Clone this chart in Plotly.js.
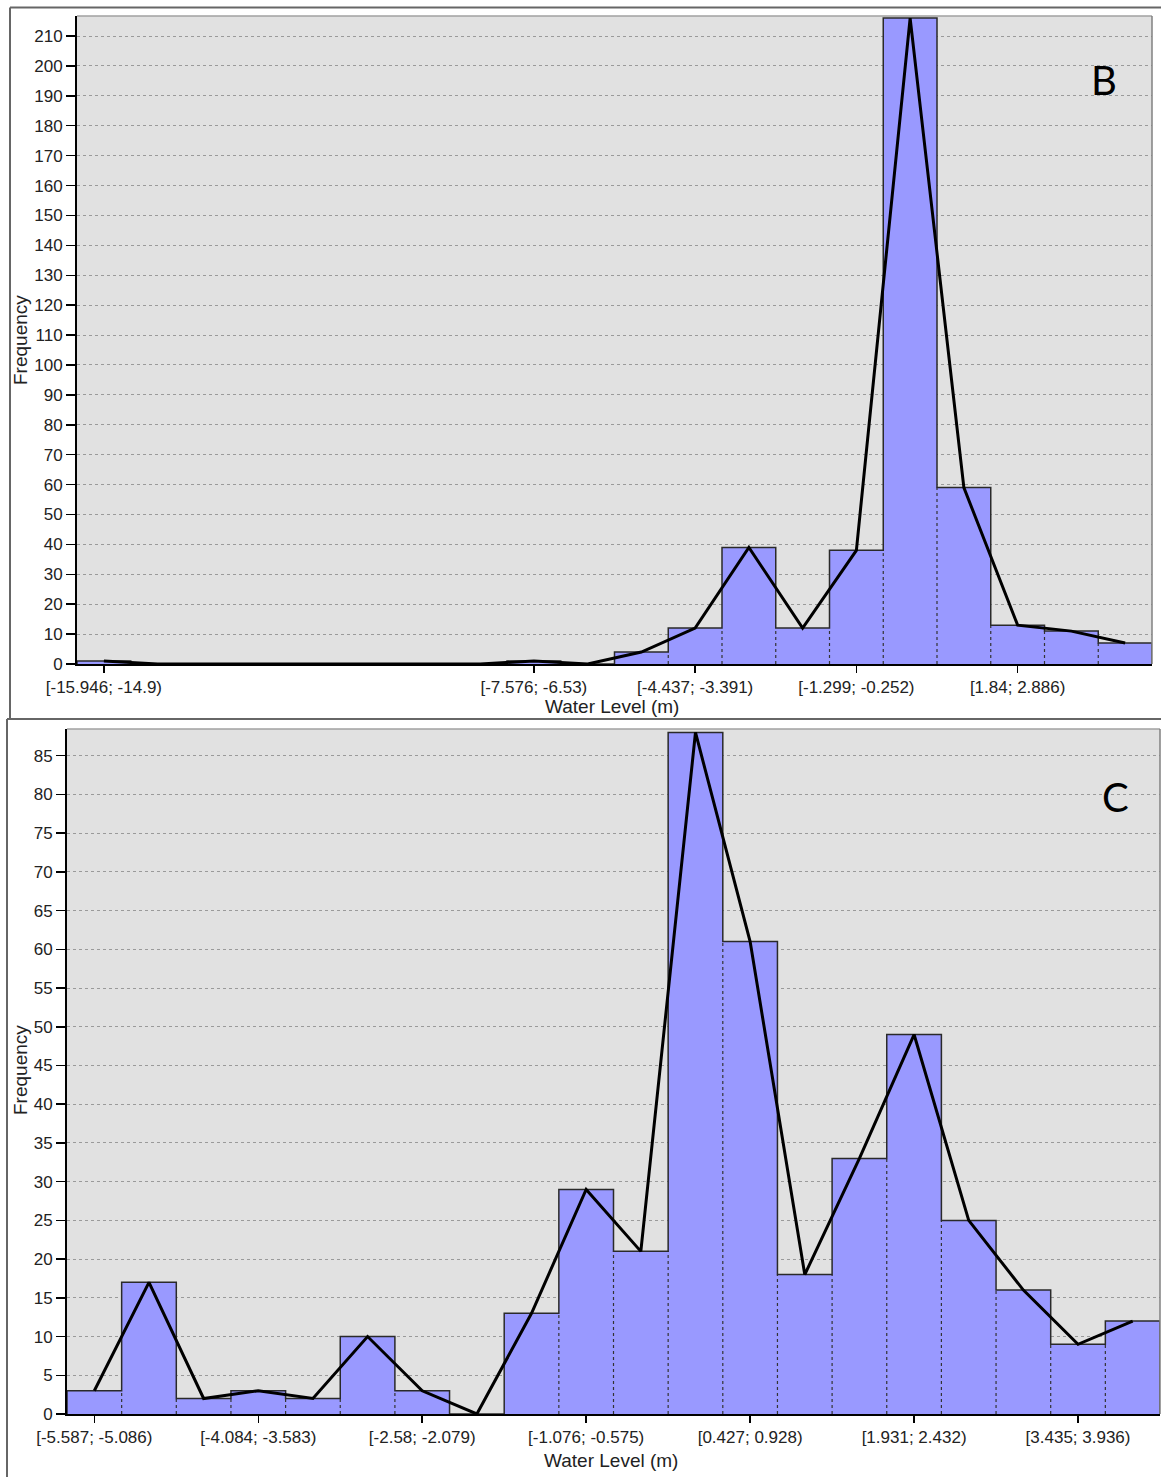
<!DOCTYPE html>
<html>
<head>
<meta charset="utf-8">
<script src="https://cdn.plot.ly/plotly-3.0.1.min.js"></script>
<style>html,body{margin:0;padding:0;background:#fff;}#chart{width:1161px;height:1477px;}</style>
</head>
<body>
<div id="chart"></div>
<script>
// ---------- Panel B data ----------
const binsB = ['[-15.946; -14.9)','[-14.9; -13.854)','[-13.854; -12.807)','[-12.807; -11.761)','[-11.761; -10.715)',
  '[-10.715; -9.668)','[-9.668; -8.622)','[-8.622; -7.576)','[-7.576; -6.53)','[-6.53; -5.483)',
  '[-5.483; -4.437)','[-4.437; -3.391)','[-3.391; -2.345)','[-2.345; -1.299)','[-1.299; -0.252)',
  '[-0.252; 0.794)','[0.794; 1.84)','[1.84; 2.886)','[2.886; 3.933)','[3.933; 4.979)'];
const countsB = [1,0,0,0,0,0,0,0,1,0,4,12,39,12,38,216,59,13,11,7];
const ticksB = ['[-15.946; -14.9)','[-7.576; -6.53)','[-4.437; -3.391)','[-1.299; -0.252)','[1.84; 2.886)'];

// ---------- Panel C data ----------
const binsC = ['[-5.587; -5.086)','[-5.086; -4.585)','[-4.585; -4.084)','[-4.084; -3.583)','[-3.583; -3.082)',
  '[-3.082; -2.58)','[-2.58; -2.079)','[-2.079; -1.578)','[-1.578; -1.076)','[-1.076; -0.575)',
  '[-0.575; -0.074)','[-0.074; 0.427)','[0.427; 0.928)','[0.928; 1.429)','[1.429; 1.931)',
  '[1.931; 2.432)','[2.432; 2.933)','[2.933; 3.435)','[3.435; 3.936)','[3.936; 4.437)'];
const countsC = [3,17,2,3,2,10,3,0,13,29,21,88,61,18,33,49,25,16,9,12];
const ticksC = ['[-5.587; -5.086)','[-4.084; -3.583)','[-2.58; -2.079)','[-1.076; -0.575)','[0.427; 0.928)','[1.931; 2.432)','[3.435; 3.936)'];

const panelLetters = ['B','C'];
const xTitle = 'Water Level (m)';
const yTitle = 'Frequency';

const BAR = '#9999ff';
const FONT = 'Liberation Sans, Arial, sans-serif';

function panelTraces(bins, counts, xa, ya) {
  const idx = bins.map((b, i) => i);
  // step outline
  const ox = [-0.5], oy = [0];
  counts.forEach((c, i) => { ox.push(i - 0.5, i + 0.5); oy.push(c, c); });
  ox.push(counts.length - 0.5); oy.push(0);
  // dotted separators
  const sx = [], sy = [];
  for (let i = 0; i < counts.length - 1; i++) {
    const m = Math.min(counts[i], counts[i + 1]);
    if (m > 0) { sx.push(i + 0.5, i + 0.5, null); sy.push(0, m, null); }
  }
  return [
    {type: 'bar', x: idx, y: counts, width: 1, marker: {color: BAR, line: {width: 0}},
     xaxis: xa, yaxis: ya, hoverinfo: 'skip', showlegend: false},
    {type: 'scatter', mode: 'lines', x: sx, y: sy, line: {color: '#333', width: 1.2, dash: 'dot'},
     xaxis: xa, yaxis: ya, hoverinfo: 'skip', showlegend: false},
    {type: 'scatter', mode: 'lines', x: ox, y: oy, line: {color: '#2a2a2a', width: 1.5},
     xaxis: xa, yaxis: ya, hoverinfo: 'skip', showlegend: false},
    {type: 'scatter', mode: 'lines', x: idx, y: counts, line: {color: '#000', width: 3},
     xaxis: xa, yaxis: ya, hoverinfo: 'skip', showlegend: false}
  ];
}

const data = [].concat(panelTraces(binsB, countsB, 'x', 'y'), panelTraces(binsC, countsC, 'x2', 'y2'));

const W = 1161, H = 1477;
const px = v => v / W, py = v => 1 - v / H;

function xAxis(bins, ticks, dom, anchor) {
  return {
    domain: dom, anchor: anchor, range: [-0.5, bins.length - 0.5],
    tickmode: 'array', tickvals: ticks.map(t => bins.indexOf(t)), ticktext: ticks,
    ticks: 'outside', ticklen: 7, tickwidth: 1.5, tickcolor: '#000',
    showline: true, linecolor: '#000', linewidth: 2, showgrid: false, zeroline: false,
    tickfont: {family: FONT, size: 17, color: '#222'}, fixedrange: true
  };
}
function yAxis(max, dtick, dom, anchor) {
  return {
    domain: dom, anchor: anchor, range: [0, max], dtick: dtick, tick0: 0,
    ticks: 'outside', ticklen: 9, tickwidth: 1.5, tickcolor: '#000',
    showline: true, linecolor: '#000', linewidth: 2,
    showgrid: true, gridcolor: '#9a9a9a', gridwidth: 1, griddash: 'dot', zeroline: false,
    tickfont: {family: FONT, size: 17, color: '#222'}, fixedrange: true
  };
}

const topX = [77, 1152], topY = [16, 664];
const botX = [67, 1160], botY = [729, 1414];

const layout = {
  width: W, height: H, margin: {l: 0, r: 0, t: 0, b: 0},
  paper_bgcolor: '#fff', plot_bgcolor: '#e1e1e1', showlegend: false, bargap: 0,
  xaxis: xAxis(binsB, ticksB, [px(topX[0]), px(topX[1])], 'y'),
  yaxis: yAxis(216.7, 10, [py(topY[1]), py(topY[0])], 'x'),
  xaxis2: xAxis(binsC, ticksC, [px(botX[0]), px(botX[1])], 'y2'),
  yaxis2: yAxis(88.45, 5, [py(botY[1]), py(botY[0])], 'x2'),
  shapes: [
    // plot-area top and right borders
    {type: 'line', xref: 'paper', yref: 'paper', x0: px(topX[0]), x1: px(topX[1]), y0: py(topY[0]), y1: py(topY[0]), line: {color: '#a0a0a0', width: 1.5}},
    {type: 'line', xref: 'paper', yref: 'paper', x0: px(topX[1]), x1: px(topX[1]), y0: py(topY[0]), y1: py(topY[1]), line: {color: '#808080', width: 1.5}},
    {type: 'line', xref: 'paper', yref: 'paper', x0: px(botX[0]), x1: px(botX[1]), y0: py(botY[0]), y1: py(botY[0]), line: {color: '#a0a0a0', width: 1.5}},
    {type: 'line', xref: 'paper', yref: 'paper', x0: px(botX[1]), x1: px(botX[1]), y0: py(botY[0]), y1: py(botY[1]), line: {color: '#808080', width: 1.5}},
    // panel frames
    {type: 'line', xref: 'paper', yref: 'paper', x0: px(10), x1: 1, y0: py(7.5), y1: py(7.5), line: {color: '#666', width: 2}},
    {type: 'line', xref: 'paper', yref: 'paper', x0: px(10), x1: px(10), y0: py(7.5), y1: py(719), line: {color: '#666', width: 2}},
    {type: 'line', xref: 'paper', yref: 'paper', x0: px(7), x1: 1, y0: py(719), y1: py(719), line: {color: '#666', width: 2}},
    {type: 'line', xref: 'paper', yref: 'paper', x0: px(7), x1: px(7), y0: py(719), y1: 0, line: {color: '#666', width: 2}}
  ],
  annotations: [
    {xref: 'paper', yref: 'paper', x: px(20), y: py(340), text: yTitle, textangle: -90, showarrow: false,
     xanchor: 'center', yanchor: 'middle', font: {family: FONT, size: 19, color: '#222'}},
    {xref: 'paper', yref: 'paper', x: px(612), y: py(707), text: xTitle, showarrow: false,
     xanchor: 'center', yanchor: 'middle', font: {family: FONT, size: 19, color: '#222'}},
    {xref: 'paper', yref: 'paper', x: px(20), y: py(1070), text: yTitle, textangle: -90, showarrow: false,
     xanchor: 'center', yanchor: 'middle', font: {family: FONT, size: 19, color: '#222'}},
    {xref: 'paper', yref: 'paper', x: px(611), y: py(1460), text: xTitle, showarrow: false,
     xanchor: 'center', yanchor: 'middle', font: {family: FONT, size: 19, color: '#222'}},
    {xref: 'paper', yref: 'paper', x: px(1104), y: py(80), text: panelLetters[0], showarrow: false,
     xanchor: 'center', yanchor: 'middle', font: {family: 'Lato, Open Sans, sans-serif', size: 40, color: '#000'}},
    {xref: 'paper', yref: 'paper', x: px(1115), y: py(797), text: panelLetters[1], showarrow: false,
     xanchor: 'center', yanchor: 'middle', font: {family: 'Lato, Open Sans, sans-serif', size: 40, color: '#000'}}
  ]
};

Plotly.newPlot('chart', data, layout, {staticPlot: true, displayModeBar: false});
</script>
</body>
</html>
